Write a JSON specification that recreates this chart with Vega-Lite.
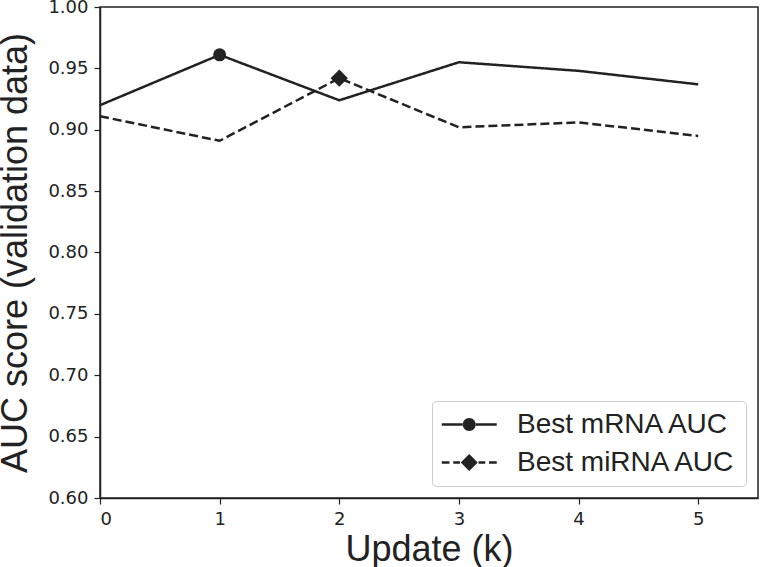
{
  "$schema": "https://vega.github.io/schema/vega-lite/v6.json",
  "width": 658,
  "height": 491,
  "autosize": {"type": "none"},
  "padding": {"left": 100, "top": 7, "right": 2, "bottom": 69},
  "background": "white",
  "config": {
    "view": {"stroke": "#222", "strokeWidth": 1.5},
    "axis": {
      "domainColor": "#222",
      "domainWidth": 1.5,
      "tickColor": "#222",
      "tickWidth": 1.2,
      "tickSize": 6,
      "grid": false,
      "labelFont": "DejaVu Sans",
      "labelFontSize": 18,
      "labelColor": "#222",
      "titleFont": "Liberation Sans",
      "titleFontSize": 36,
      "titleFontWeight": "normal",
      "titleColor": "#222"
    }
  },
  "data": {
    "values": [
      {"k": 0, "auc": 0.920, "series": "Best mRNA AUC", "best": false},
      {"k": 1, "auc": 0.961, "series": "Best mRNA AUC", "best": true},
      {"k": 2, "auc": 0.924, "series": "Best mRNA AUC", "best": false},
      {"k": 3, "auc": 0.955, "series": "Best mRNA AUC", "best": false},
      {"k": 4, "auc": 0.948, "series": "Best mRNA AUC", "best": false},
      {"k": 5, "auc": 0.937, "series": "Best mRNA AUC", "best": false},
      {"k": 0, "auc": 0.911, "series": "Best miRNA AUC", "best": false},
      {"k": 1, "auc": 0.891, "series": "Best miRNA AUC", "best": false},
      {"k": 2, "auc": 0.942, "series": "Best miRNA AUC", "best": true},
      {"k": 3, "auc": 0.902, "series": "Best miRNA AUC", "best": false},
      {"k": 4, "auc": 0.906, "series": "Best miRNA AUC", "best": false},
      {"k": 5, "auc": 0.895, "series": "Best miRNA AUC", "best": false}
    ]
  },
  "resolve": {"legend": {"strokeDash": "independent", "shape": "independent"}},
  "layer": [
    {
      "mark": {"type": "line", "color": "#222", "strokeWidth": 2.5},
      "encoding": {
        "x": {
          "field": "k",
          "type": "quantitative",
          "scale": {"domain": [0, 5.5], "nice": false, "zero": false},
          "axis": {"values": [0, 1, 2, 3, 4, 5], "format": "d", "title": "Update (k)", "labelPadding": 6, "titlePadding": 4}
        },
        "y": {
          "field": "auc",
          "type": "quantitative",
          "scale": {"domain": [0.6, 1.0], "nice": false, "zero": false},
          "axis": {
            "values": [0.6, 0.65, 0.7, 0.75, 0.8, 0.85, 0.9, 0.95, 1.0],
            "format": ".2f",
            "title": "AUC score (validation data)",
            "labelPadding": 6,
            "titlePadding": 13
          }
        },
        "strokeDash": {
          "field": "series",
          "type": "nominal",
          "scale": {"domain": ["Best mRNA AUC", "Best miRNA AUC"], "range": [[1, 0], [9, 4]]},
          "legend": null
        }
      }
    },
    {
      "transform": [{"filter": "datum.best && datum.series === 'Best mRNA AUC'"}],
      "mark": {"type": "point", "shape": "circle", "filled": true, "color": "#222", "size": 169, "opacity": 1},
      "encoding": {
        "x": {"field": "k", "type": "quantitative"},
        "y": {"field": "auc", "type": "quantitative"}
      }
    },
    {
      "transform": [{"filter": "datum.best && datum.series === 'Best miRNA AUC'"}],
      "mark": {"type": "point", "shape": "diamond", "filled": true, "color": "#222", "size": 300, "opacity": 1},
      "encoding": {
        "x": {"field": "k", "type": "quantitative"},
        "y": {"field": "auc", "type": "quantitative"}
      }
    },
    {
      "transform": [{"filter": "datum.k < 0"}],
      "mark": {"type": "point", "filled": true, "color": "#222", "opacity": 1},
      "encoding": {
        "x": {"field": "k", "type": "quantitative"},
        "y": {"field": "auc", "type": "quantitative"},
        "shape": {
          "field": "series",
          "type": "nominal",
          "scale": {
            "domain": ["Best mRNA AUC", "Best miRNA AUC"],
            "range": [
              "M-1,-0.09L0.55,-0.09L0.55,0.09L-1,0.09Z M1.45,-0.09L3,-0.09L3,0.09L1.45,0.09Z M0.527,0A0.473,0.473 0 1,0 1.473,0A0.473,0.473 0 1,0 0.527,0Z",
              "M-1,-0.09L-0.44,-0.09L-0.44,0.09L-1,0.09Z M-0.164,-0.09L0.324,-0.09L0.324,0.09L-0.164,0.09Z M1.676,-0.09L2.164,-0.09L2.164,0.09L1.676,0.09Z M2.44,-0.09L3,-0.09L3,0.09L2.44,0.09Z M1,-0.618L1.618,0L1,0.618L0.382,0Z"
            ]
          },
          "legend": {
            "title": null,
            "orient": "bottom-right",
            "offset": 12,
            "padding": 9,
            "rowPadding": 9,
            "labelFont": "Liberation Sans",
            "labelFontSize": 28,
            "labelColor": "#222",
            "labelOffset": 47,
            "labelLimit": 400,
            "symbolSize": 756,
            "symbolFillColor": "#222",
            "symbolOpacity": 1,
            "strokeColor": "#cccccc",
            "fillColor": "white",
            "cornerRadius": 4
          }
        }
      }
    }
  ]
}
